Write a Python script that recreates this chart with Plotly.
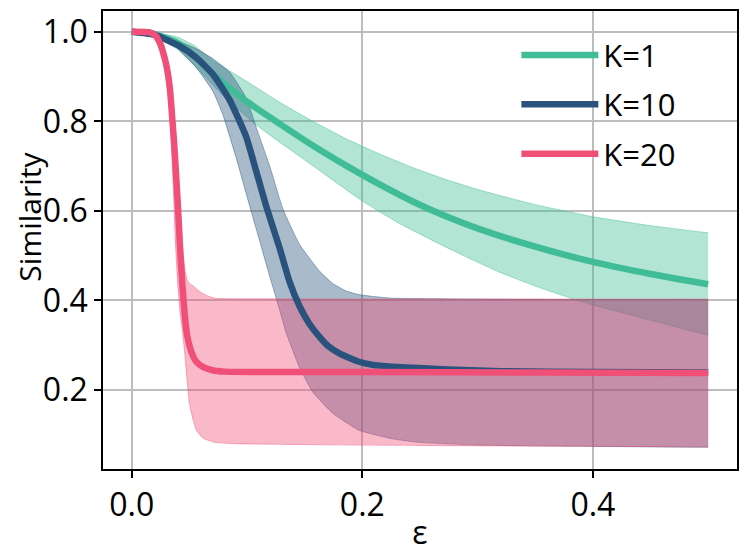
import plotly.graph_objects as go

# ---------------- data ----------------
# K=1
k1_x = [0, 0.02, 0.04, 0.055, 0.0704, 0.0993, 0.128, 0.157, 0.186, 0.215,
        0.2436, 0.2725, 0.301, 0.35, 0.4, 0.45, 0.5]
k1_mean = [1.0, 0.995, 0.975, 0.945, 0.905, 0.845, 0.795, 0.746, 0.701, 0.659,
           0.621, 0.588, 0.560, 0.520, 0.486, 0.459, 0.436]
k1_up_x = [0, 0.02, 0.04, 0.055, 0.0704, 0.0993, 0.128, 0.157, 0.186, 0.215, 0.2436,
           0.2725, 0.301, 0.35, 0.4, 0.45, 0.5]
k1_up = [1.0, 0.998, 0.988, 0.968, 0.936, 0.890, 0.843, 0.800, 0.761, 0.727, 0.697,
         0.670, 0.647, 0.614, 0.587, 0.567, 0.551]
k1_lo_x = [0, 0.02, 0.04, 0.06, 0.08, 0.108, 0.128, 0.157, 0.2, 0.232, 0.2725, 0.301,
           0.32, 0.35, 0.382, 0.4, 0.45, 0.5]
k1_lo = [1.0, 0.99, 0.96, 0.91, 0.855, 0.792, 0.754, 0.701, 0.622, 0.572, 0.519, 0.484,
         0.462, 0.432, 0.404, 0.390, 0.356, 0.322]

# K=10
k10_x = [0, 0.02, 0.0416, 0.056, 0.0704, 0.0848, 0.0993, 0.108, 0.1166, 0.128, 0.1368,
         0.1455, 0.154, 0.163, 0.17, 0.18, 0.197, 0.209, 0.226, 0.249, 0.28, 0.32, 0.4, 0.5]
k10_mean = [1.0, 0.993, 0.968, 0.942, 0.905, 0.848, 0.765, 0.688, 0.610, 0.519, 0.442,
            0.387, 0.348, 0.318, 0.299, 0.282, 0.263, 0.256, 0.252, 0.249, 0.245, 0.242,
            0.240, 0.239]
k10_up_x = [0, 0.02, 0.04, 0.056, 0.0704, 0.0848, 0.0993, 0.108, 0.1195, 0.131, 0.1455,
            0.163, 0.1743, 0.186, 0.197, 0.209, 0.226, 0.26, 0.3, 0.4, 0.5]
k10_up = [1.0, 0.998, 0.98, 0.962, 0.940, 0.910, 0.852, 0.786, 0.701, 0.605, 0.525,
          0.465, 0.438, 0.421, 0.413, 0.409, 0.405, 0.404, 0.403, 0.402, 0.402]
k10_lo_x = [0, 0.02, 0.033, 0.0416, 0.056, 0.0704, 0.079, 0.0906, 0.0993, 0.1108,
            0.1195, 0.127, 0.134, 0.1455, 0.157, 0.1743, 0.197, 0.226, 0.249, 0.3, 0.4, 0.5]
k10_lo = [1.0, 0.995, 0.981, 0.958, 0.920, 0.867, 0.815, 0.718, 0.638, 0.534,
          0.455, 0.390, 0.327, 0.250, 0.195, 0.148, 0.110, 0.091, 0.083, 0.077, 0.074, 0.072]

# K=20
k20_x = [0, 0.015, 0.020, 0.024, 0.027, 0.030, 0.033, 0.035, 0.037, 0.040, 0.042,
         0.044, 0.046, 0.048, 0.052, 0.056, 0.062, 0.070, 0.08, 0.2, 0.35, 0.5]
k20_mean = [1.0, 0.999, 0.993, 0.977, 0.955, 0.925, 0.874, 0.81, 0.74, 0.61, 0.51,
            0.43, 0.365, 0.322, 0.283, 0.263, 0.251, 0.244, 0.241, 0.240, 0.239, 0.238]
k20_up_x = [0, 0.018, 0.024, 0.028, 0.031, 0.034, 0.037, 0.040, 0.042, 0.044, 0.046,
            0.048, 0.050, 0.053, 0.056, 0.060, 0.066, 0.072, 0.08, 0.2, 0.35, 0.5]
k20_up = [1.0, 1.0, 0.99, 0.97, 0.935, 0.88, 0.80, 0.69, 0.60, 0.52, 0.47,
          0.445, 0.438, 0.433, 0.426, 0.418, 0.41, 0.405, 0.404, 0.403, 0.403, 0.403]
k20_lo_x = [0, 0.016, 0.022, 0.026, 0.029, 0.032, 0.034, 0.036, 0.038, 0.040, 0.042,
            0.044, 0.046, 0.048, 0.050, 0.053, 0.056, 0.062, 0.072, 0.09, 0.15, 0.25, 0.5]
k20_lo = [1.0, 0.998, 0.985, 0.955, 0.91, 0.85, 0.77, 0.65, 0.52, 0.43, 0.37,
          0.33, 0.28, 0.22, 0.17, 0.135, 0.11, 0.092, 0.083, 0.080, 0.078, 0.076, 0.073]

x_ticks = [0.0, 0.2, 0.4]
x_tick_labels = ["0.0", "0.2", "0.4"]
y_ticks = [0.2, 0.4, 0.6, 0.8, 1.0]
y_tick_labels = ["0.2", "0.4", "0.6", "0.8", "1.0"]

series = [
    ("K=1", k1_x, k1_mean, k1_up_x, k1_up, k1_lo_x, k1_lo, (64, 189, 150)),
    ("K=10", k10_x, k10_mean, k10_up_x, k10_up, k10_lo_x, k10_lo, (41, 83, 125)),
    ("K=20", k20_x, k20_mean, k20_up_x, k20_up, k20_lo_x, k20_lo, (240, 80, 120)),
]

FONT = "Open Sans"
fig = go.Figure()

# bands first (upper edge, then lower edge filled to it)
for name, x, m, ux, u, lx, lo, c in series:
    edge = dict(color="rgba(%d,%d,%d,0.45)" % c, width=1, shape="spline", smoothing=0.4)
    fig.add_trace(go.Scatter(x=ux, y=u, mode="lines", line=edge,
                             showlegend=False, hoverinfo="skip"))
    fig.add_trace(go.Scatter(x=lx, y=lo, mode="lines", line=edge, fill="tonexty",
                             fillcolor="rgba(%d,%d,%d,0.4)" % c,
                             showlegend=False, hoverinfo="skip"))

# mean lines
for name, x, m, ux, u, lx, lo, c in series:
    fig.add_trace(go.Scatter(
        x=x, y=m, mode="lines", name=name, legendgroup=name,
        line=dict(color="rgb(%d,%d,%d)" % c, width=6.5, shape="spline", smoothing=0.5)))

axis_common = dict(
    showline=True, linecolor="black", linewidth=1.5, mirror=True,
    showgrid=True, gridcolor="#bdbdbd", gridwidth=1.5,
    ticks="outside", ticklen=7, tickwidth=1.5, tickcolor="black",
    zeroline=False, automargin=False,
    tickfont=dict(family=FONT, size=32, color="black"),
)

# the page body adds an 8 px margin, so the figure is 8 px smaller and margins shifted
fig.update_layout(
    width=740, height=545,
    margin=dict(l=95, r=11, t=3, b=84),
    paper_bgcolor="white", plot_bgcolor="white",
    xaxis=dict(range=[-0.025, 0.525], tickvals=x_ticks, ticktext=x_tick_labels,
               title=dict(text="ε", font=dict(family=FONT, size=32, color="black"), standoff=0),
               **axis_common),
    yaxis=dict(range=[0.0235, 1.0465], tickvals=y_ticks, ticktext=y_tick_labels,
               **axis_common),
    legend=dict(x=0.652, y=0.962, xanchor="left", yanchor="top",
                font=dict(family=FONT, size=31, color="black"),
                bgcolor="rgba(255,255,255,0)", borderwidth=0,
                itemwidth=77, tracegroupgap=6),
    annotations=[dict(text="Similarity", textangle=-90, xref="paper", yref="paper",
                      x=-0.1498, y=0.55, xanchor="left", yanchor="middle", showarrow=False,
                      borderpad=0, font=dict(family=FONT, size=30, color="black"))],
)

fig.write_html("out.html")
